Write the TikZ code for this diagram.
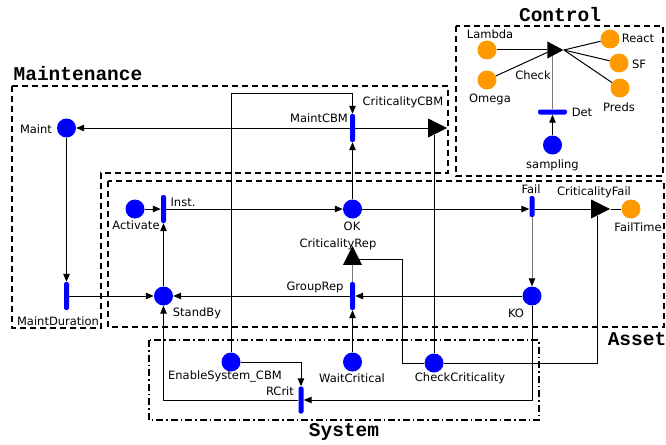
\documentclass[tikz,border=0pt]{standalone}
\usepackage{fontspec}
\setmainfont{DejaVu Sans}
\newfontfamily\titlefont{Liberation Mono}
\usetikzlibrary{arrows.meta,shapes.geometric}
\definecolor{pblue}{RGB}{0,0,255}
\definecolor{porange}{RGB}{255,153,0}
\definecolor{lgray}{RGB}{120,120,120}
\begin{document}
\begin{tikzpicture}[x=1pt,y=-1pt,
  bplace/.style={circle,fill=pblue,minimum size=19pt,inner sep=0pt},
  oplace/.style={circle,fill=porange,minimum size=19pt,inner sep=0pt},
  vtrans/.style={rectangle,fill=pblue,minimum width=5pt,minimum height=28pt,rounded corners=2pt,inner sep=0pt},
  htrans/.style={rectangle,fill=pblue,minimum width=29pt,minimum height=5pt,rounded corners=2pt,inner sep=0pt},
  tri/.style={isosceles triangle,isosceles triangle stretches,fill=black,inner sep=0pt,minimum width=19pt,minimum height=19pt},
  lbl/.style={inner sep=0pt,font=\fontsize{11.5}{13}\selectfont},
  ttl/.style={inner sep=0pt,font=\titlefont\bfseries\fontsize{19.5}{22}\selectfont},
  cn/.style={line width=1pt,draw=black},
  arr/.style={cn,-{Triangle[length=8pt,width=6.5pt]}},
  gcn/.style={line width=1pt,draw=lgray},
  dbox/.style={line width=1.6pt,dash pattern=on 6pt off 4pt},
  sbox/.style={line width=1.3pt,dash pattern=on 7pt off 3pt on 1.5pt off 3pt},
]
\useasboundingbox (0,0) rectangle (666,444);

% region boxes
\draw[dbox] (12,86) -- (448,86) -- (448,173) -- (101,173) -- (101,328) -- (12,328) -- cycle;
\draw[dbox] (108,181) rectangle (664,327);
\draw[dbox] (456,26) rectangle (663,176);
\draw[sbox] (149,340) rectangle (539,420);

\node[ttl] (tControl) at (560,15) {Control};
\node[ttl] (tMaint) at (78,74) {Maintenance};
\node[ttl] (tAsset) at (637,339) {Asset};
\node[ttl] (tSystem) at (344,432) {System};

% Control
\node[oplace] (Lambda) at (487,50) {};
\node[oplace] (Omega) at (487,80) {};
\node[tri,minimum width=17pt,minimum height=16pt] (Check) at (552.5,50) {};
\node[oplace] (React) at (610,39) {};
\node[oplace] (SF) at (619,63) {};
\node[oplace] (Preds) at (620,88) {};
\node[htrans] (Det) at (552.5,112) {};
\node[bplace] (sampling) at (552.5,145) {};
\node[lbl] (lLambda) at (490,34) {Lambda};
\node[lbl] (lOmega) at (490,99) {Omega};
\node[lbl] (lCheck) at (533,75) {Check};
\node[lbl] (lReact) at (638,38) {React};
\node[lbl] (lSF) at (639,64) {SF};
\node[lbl] (lPreds) at (619,107) {Preds};
\node[lbl] (lDet) at (582,112) {Det};
\node[lbl] (lsampling) at (552.5,165) {sampling};

% Maintenance
\node[bplace] (Maint) at (66.5,128) {};
\node[vtrans] (MaintCBM) at (352.5,128) {};
\node[tri] (CriticalityCBM) at (434,128) {};
\node[vtrans] (MaintDuration) at (66.5,296) {};
\node[lbl] (lMaint) at (36,129) {Maint};
\node[lbl] (lMaintCBM) at (319,118) {MaintCBM};
\node[lbl] (lCriticalityCBM) at (403,102) {CriticalityCBM};
\node[lbl] (lMaintDuration) at (58,321) {MaintDuration};

% Asset
\node[bplace] (Activate) at (135,209) {};
\node[vtrans] (Inst) at (163.5,209) {};
\node[bplace] (OK) at (352.5,209) {};
\node[vtrans,minimum height=21pt] (Fail) at (532,206.5) {};
\node[tri] (CriticalityFail) at (597,209) {};
\node[oplace] (FailTime) at (631,209) {};
\node[bplace] (StandBy) at (163.5,296) {};
\node[vtrans] (GroupRep) at (352.5,296) {};
\node[tri,shape border rotate=90] (CriticalityRep) at (352.5,259) {};
\node[bplace] (KO) at (532,296) {};
\node[lbl] (lActivate) at (136,225) {Activate};
\node[lbl] (lInst) at (183,202) {Inst.};
\node[lbl] (lOK) at (352,226) {OK};
\node[lbl] (lFail) at (531,189) {Fail};
\node[lbl] (lCriticalityFail) at (594,192) {CriticalityFail};
\node[lbl] (lFailTime) at (638,227) {FailTime};
\node[lbl] (lStandBy) at (197,313) {StandBy};
\node[lbl] (lGroupRep) at (315,287) {GroupRep};
\node[lbl] (lCriticalityRep) at (338,244) {CriticalityRep};
\node[lbl] (lKO) at (516,313) {KO};

% System
\node[bplace] (ESC) at (231,362) {};
\node[vtrans,minimum height=27pt] (RCrit) at (301,400) {};
\node[bplace] (WaitCritical) at (352.5,362) {};
\node[bplace] (CheckCriticality) at (434,363) {};
\node[lbl] (lESC) at (225,376) {EnableSystem\_CBM};
\node[lbl] (lRCrit) at (280,391) {RCrit};
\node[lbl] (lWaitCritical) at (352,378) {WaitCritical};
\node[lbl] (lCheckCriticality) at (460,378) {CheckCriticality};

\coordinate (yTop) at (0,93);
\coordinate (cr) at (402,259);

% Control connectors
\draw[cn] (Lambda) -- (Check);
\draw[cn] (Omega) -- (Check);
\draw[cn] (Check.apex) -- (React);
\draw[cn] (Check.apex) -- (SF);
\draw[cn] (Check.apex) -- (Preds);
\draw[gcn] (Det) -- (Check);
\draw[arr] (sampling) -- (Det);

% Maintenance connectors
\draw[arr] (MaintCBM) -- (Maint);
\draw[cn] (MaintCBM) -- (CriticalityCBM);
\draw[arr] (ESC) |- (MaintCBM |- yTop) -- (MaintCBM);
\draw[arr] (OK) -- (MaintCBM);
\draw[cn] (CheckCriticality) -- (CriticalityCBM);
\draw[arr] (Maint) -- (MaintDuration);
\draw[arr] (MaintDuration) -- (StandBy);

% Asset connectors
\draw[arr] (Activate) -- (Inst);
\draw[arr] (StandBy) -- (Inst);
\draw[arr] (Inst) -- (OK);
\draw[arr] (OK) -- (OK -| Fail.west);
\draw[cn] (Fail.east |- CriticalityFail) -- (CriticalityFail);
\draw[cn] (CriticalityFail) -- (FailTime);
\draw[gcn,-{Triangle[length=8pt,width=6.5pt,black]}] (Fail) -- (KO);
\draw[arr] (KO) -- (GroupRep);
\draw[arr] (GroupRep) -- (StandBy);
\draw[gcn] (GroupRep) -- (CriticalityRep);
\draw[cn] (CheckCriticality) -| (cr) -- (CriticalityRep);
\draw[arr] (WaitCritical) -- (GroupRep);

% System connectors
\draw[cn] (CriticalityFail) |- (CheckCriticality);
\draw[arr] (KO) |- (RCrit);
\draw[arr] (RCrit) -| (StandBy);
\draw[arr] (ESC) -| (RCrit);
\end{tikzpicture}
\end{document}
